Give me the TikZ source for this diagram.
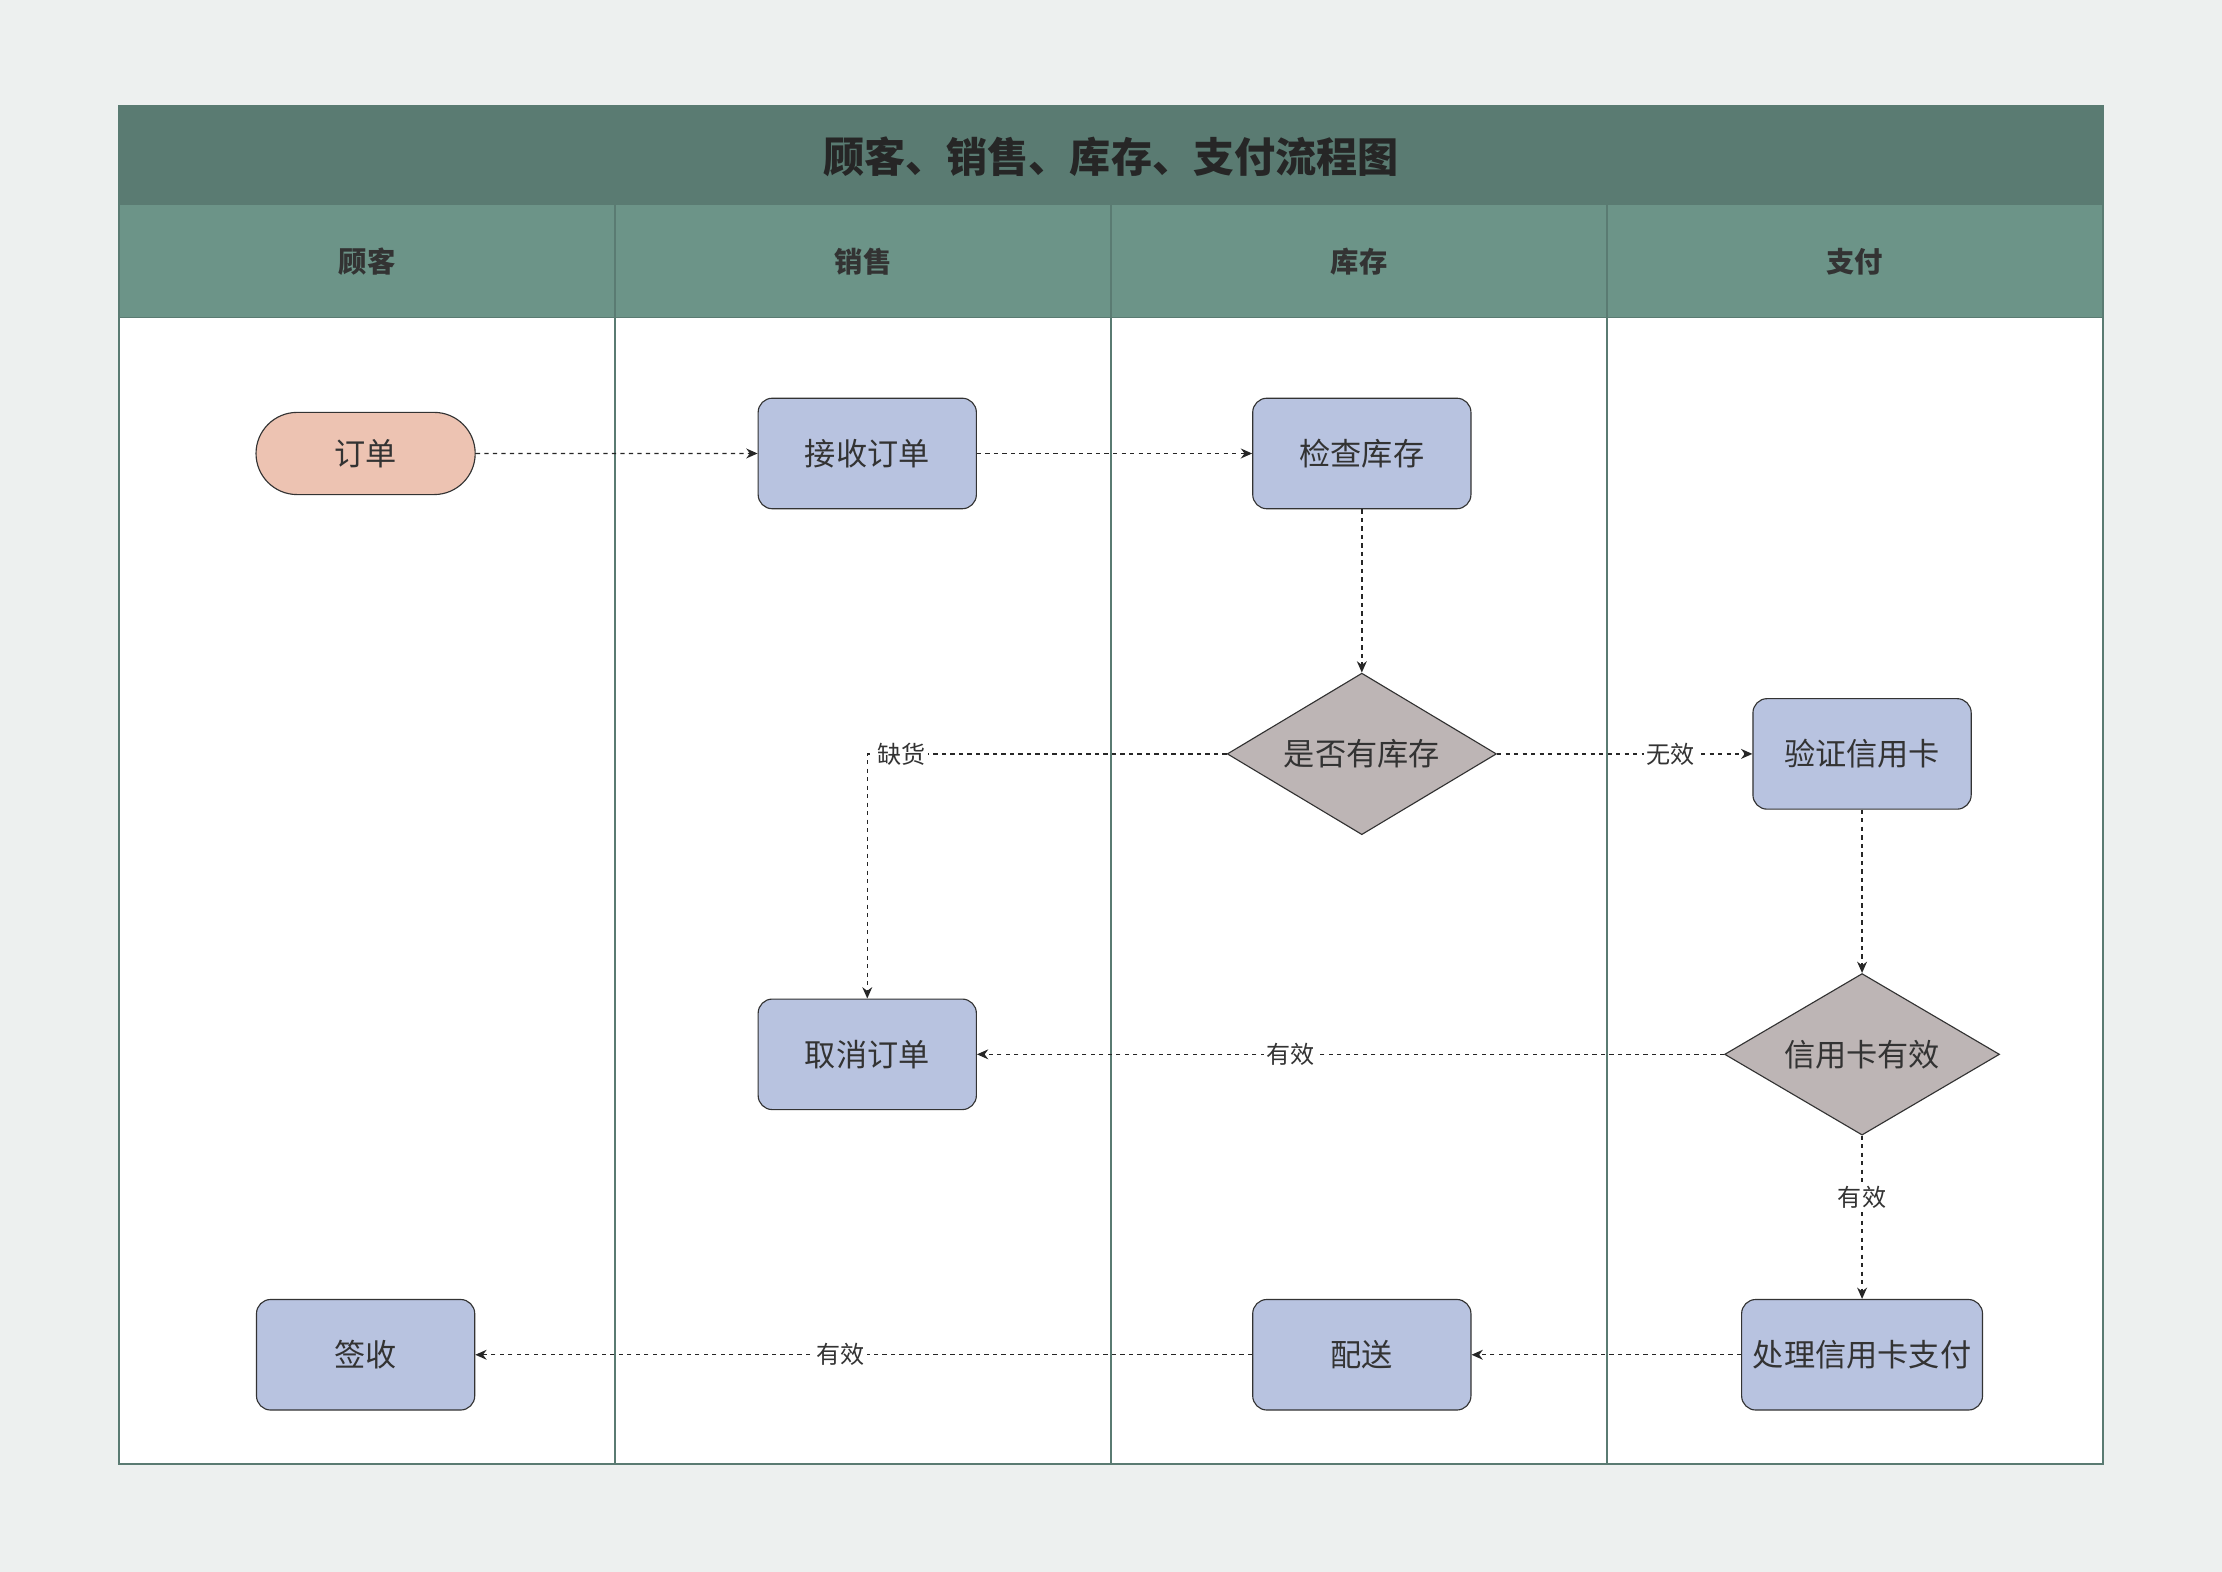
\documentclass[tikz,border=0pt]{standalone}
\usepackage{fontspec}
\setmainfont{Noto Sans CJK SC}
\usetikzlibrary{shapes.geometric,shapes.misc,arrows.meta}
\definecolor{bg}{HTML}{EDF0EF}
\definecolor{titlec}{HTML}{5A7B72}
\definecolor{headc}{HTML}{6C9488}
\definecolor{proc}{HTML}{B8C3E0}
\definecolor{startc}{HTML}{EDC3B2}
\definecolor{dec}{HTML}{BDB5B5}
\definecolor{txt}{HTML}{333333}
\begin{document}
\begin{tikzpicture}[x=0.5pt,y=-0.5pt,
  proc/.style={draw=txt,fill=proc,rounded corners=5pt,minimum width=77pt,minimum height=39pt,inner sep=1pt,font=\fontsize{11}{13}\selectfont,text=txt},
  start/.style={draw=txt,fill=startc,rounded rectangle,minimum width=84pt,minimum height=29pt,font=\fontsize{11}{13}\selectfont,text=txt},
  dec/.style={draw=txt,fill=dec,diamond,inner sep=0pt,minimum height=57pt},
  dtext/.style={font=\fontsize{11}{13}\selectfont,text=txt},
  flow/.style={dash pattern=on 1.5pt off 1.5pt,draw=black!85,line width=0.5pt,-{Stealth[length=4pt,width=3.5pt]}},
  lab/.style={fill=white,inner sep=1pt,font=\fontsize{8.5}{10}\selectfont,text=txt},
  lane/.style={font=\bfseries\fontsize{10}{12}\selectfont,text=txt}]
\fill[bg] (0,0) rectangle (1568,1109);
\fill[white] (84,224) rectangle (1484,1033);
\fill[titlec] (84,75) rectangle (1484,145);
\fill[headc] (84,145) rectangle (1484,224);
\draw[titlec,line width=0.6pt] (84,75) rectangle (1484,1033);
\foreach \x in {434,784,1134} \draw[titlec,line width=0.6pt] (\x,145) -- (\x,1033);
\draw[titlec,line width=0.6pt] (84,224) -- (1484,224);
\node[font=\bfseries\fontsize{14.5}{16}\selectfont,text=black!85] (title) at (784,111) {顾客、销售、库存、支付流程图};
\node[lane] (l1) at (259,185) {顾客};
\node[lane] (l2) at (609,185) {销售};
\node[lane] (l3) at (959,185) {库存};
\node[lane] (l4) at (1309,185) {支付};
\node[start] (order) at (258,320) {订单};
\node[proc] (recv) at (612,320) {接收订单};
\node[proc] (check) at (961,320) {检查库存};
\node[dec,minimum width=95pt] (stock) at (961,532) {};
\node[dtext] (stockt) at (stock) {是否有库存};
\node[proc] (verify) at (1314,532) {验证信用卡};
\node[dec,minimum width=97pt] (valid) at (1314,744) {};
\node[dtext] (validt) at (valid) {信用卡有效};
\node[proc] (cancel) at (612,744) {取消订单};
\node[proc] (sign) at (258,956) {签收};
\node[proc] (ship) at (961,956) {配送};
\node[proc,minimum width=85pt] (pay) at (1314,956) {处理信用卡支付};
\draw[flow] (order) -- (recv);
\draw[flow] (recv) -- (check);
\draw[flow] (check) -- (stock);
\draw[flow] (stock) -- node[lab,pos=0.68]{无效} (verify);
\draw[flow] (stock.west) -| node[lab,pos=0.5,xshift=12pt]{缺货} (cancel);
\draw[flow] (verify) -- (valid);
\draw[flow] (valid) -- node[lab,pos=0.58]{有效} (cancel);
\draw[flow] (valid) -- node[lab,pos=0.38]{有效} (pay);
\draw[flow] (pay) -- (ship);
\draw[flow] (ship) -- node[lab,pos=0.53]{有效} (sign);
\end{tikzpicture}
\end{document}
